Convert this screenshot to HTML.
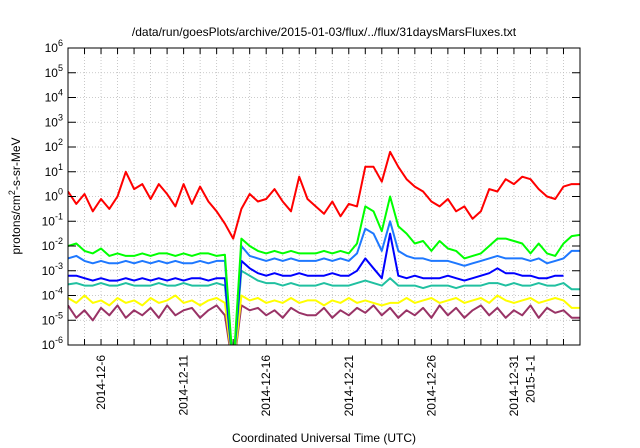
<!DOCTYPE html>
<html><head><meta charset="utf-8">
<style>
body{margin:0;background:#fff;}
svg{display:block;font-family:"Liberation Sans",sans-serif;}
</style></head>
<body>
<svg id="chart" width="640" height="448" viewBox="0 0 640 448" xmlns="http://www.w3.org/2000/svg">
<rect width="640" height="448" fill="#fff"/>
<text x="324" y="36" font-size="12" text-anchor="middle" fill="#000">/data/run/goesPlots/archive/2015-01-03/flux/../flux/31daysMarsFluxes.txt</text>
<text x="324" y="442" font-size="12" text-anchor="middle" fill="#000">Coordinated Universal Time (UTC)</text>
<text transform="translate(20,196) rotate(-90)" font-size="12" text-anchor="middle" fill="#000">protons/cm<tspan dy="-5" font-size="9">2</tspan><tspan dy="5">-s-sr-MeV</tspan></text>
<defs><clipPath id="pc"><rect x="68" y="48" width="512" height="297"/></clipPath></defs>
<g id="grid"></g>
<g id="series" clip-path="url(#pc)"></g>
<g id="axes"></g>
</svg>
<script>
// day offsets from 2014-12-04 (0.5 day steps)
const days = Array.from({length:63},(_,i)=>i*0.5);
const yTickExps = [6,5,4,3,2,1,0,-1,-2,-3,-4,-5,-6];
const xTickDays = [2,7,12,17,22,27,28];
const xTickLabels = ["2014-12-6","2014-12-11","2014-12-16","2014-12-21","2014-12-26","2014-12-31","2015-1-1"];
// log10 flux values
const redVals = [0.2,-0.3,0.1,-0.6,-0.1,-0.5,0.0,1.0,0.3,0.5,-0.1,0.5,0.1,-0.4,0.5,-0.3,0.4,-0.2,-0.6,-1.1,-1.7,-0.5,0.1,-0.2,-0.1,0.3,-0.2,-0.6,0.8,-0.1,-0.4,-0.7,-0.2,-0.8,-0.3,-0.4,1.2,1.2,0.6,1.8,1.2,0.7,0.4,0.2,-0.2,-0.4,-0.1,-0.6,-0.4,-0.9,-0.6,0.3,0.2,0.7,0.5,0.8,0.7,0.3,0.0,-0.1,0.4,0.5,0.5];
const greenVals = [-2.0,-1.9,-2.2,-2.3,-2.1,-2.4,-2.3,-2.4,-2.4,-2.3,-2.4,-2.3,-2.3,-2.4,-2.3,-2.4,-2.3,-2.3,-2.4,-2.35,-7,-1.7,-2.0,-2.2,-2.3,-2.2,-2.3,-2.2,-2.3,-2.3,-2.3,-2.2,-2.3,-2.2,-2.3,-1.9,-0.4,-0.6,-1.4,0.0,-1.2,-1.5,-1.9,-1.8,-2.2,-1.8,-2.1,-2.2,-2.5,-2.4,-2.3,-2.0,-1.7,-1.7,-1.8,-1.9,-2.3,-1.9,-2.3,-2.4,-1.9,-1.6,-1.55];
const skyVals = [-2.5,-2.4,-2.6,-2.7,-2.6,-2.7,-2.7,-2.6,-2.7,-2.6,-2.7,-2.6,-2.7,-2.6,-2.7,-2.7,-2.6,-2.7,-2.6,-2.6,-7,-2.0,-2.4,-2.5,-2.6,-2.5,-2.6,-2.5,-2.6,-2.6,-2.6,-2.5,-2.6,-2.5,-2.6,-2.3,-1.3,-1.5,-2.2,-1.0,-2.2,-2.4,-2.5,-2.5,-2.6,-2.6,-2.6,-2.7,-2.8,-2.7,-2.6,-2.5,-2.4,-2.5,-2.5,-2.5,-2.6,-2.5,-2.7,-2.6,-2.5,-2.2,-2.2];
const blueVals = [-3.2,-3.2,-3.3,-3.4,-3.3,-3.4,-3.4,-3.3,-3.4,-3.3,-3.4,-3.3,-3.4,-3.3,-3.4,-3.3,-3.3,-3.4,-3.3,-3.3,-7,-2.6,-2.9,-3.1,-3.2,-3.1,-3.2,-3.2,-3.1,-3.2,-3.2,-3.2,-3.1,-3.2,-3.2,-3.0,-2.5,-2.9,-3.3,-1.5,-3.2,-3.3,-3.2,-3.3,-3.3,-3.3,-3.2,-3.3,-3.4,-3.3,-3.2,-3.1,-2.9,-3.1,-3.1,-3.2,-3.2,-3.3,-3.3,-3.2,-3.2,null,null];
const tealVals = [-3.55,-3.5,-3.6,-3.6,-3.5,-3.6,-3.6,-3.5,-3.6,-3.6,-3.6,-3.5,-3.6,-3.6,-3.5,-3.6,-3.6,-3.6,-3.5,-3.6,-7,-3.0,-3.2,-3.4,-3.5,-3.5,-3.6,-3.5,-3.6,-3.6,-3.6,-3.5,-3.6,-3.6,-3.6,-3.5,-3.4,-3.5,-3.6,-3.3,-3.6,-3.6,-3.6,-3.7,-3.6,-3.6,-3.6,-3.7,-3.6,-3.6,-3.6,-3.5,-3.5,-3.6,-3.5,-3.6,-3.6,-3.5,-3.6,-3.6,-3.5,-3.75,-3.75];
const yellowVals = [-4.1,-4.3,-4.0,-4.3,-4.2,-4.4,-4.1,-4.3,-4.2,-4.4,-4.1,-4.3,-4.2,-4.0,-4.3,-4.2,-4.4,-4.2,-4.1,-4.3,-7,-4.0,-4.2,-4.1,-4.3,-4.2,-4.3,-4.1,-4.3,-4.2,-4.2,-4.4,-4.2,-4.3,-4.1,-4.3,-4.2,-4.3,-4.4,-4.3,-4.3,-4.1,-4.3,-4.2,-4.1,-4.3,-4.2,-4.1,-4.3,-4.2,-4.1,-4.3,-4.0,-4.2,-4.3,-4.2,-4.1,-4.3,-4.2,-4.1,-4.2,-4.5,-4.5];
const brownVals = [-4.4,-4.9,-4.6,-5.0,-4.5,-4.8,-4.4,-4.9,-4.6,-4.8,-4.5,-4.9,-4.4,-4.8,-4.6,-4.5,-4.9,-4.6,-4.4,-4.8,-7,-4.4,-4.6,-4.5,-4.8,-4.6,-4.9,-4.5,-4.7,-4.8,-4.8,-4.5,-4.9,-4.6,-4.8,-4.5,-4.7,-4.4,-4.8,-4.5,-4.9,-4.6,-4.8,-4.5,-4.9,-4.4,-4.8,-4.5,-4.9,-4.6,-4.4,-4.8,-4.5,-4.9,-4.6,-4.8,-4.4,-4.9,-4.5,-4.7,-4.6,-4.9,-4.9];

const L=68,R=580,T=48,B=345,DAYS=31;
const xs=d=>L+d*(R-L)/DAYS;
const ys=e=>T+(6-e)*(B-T)/12;
const NS="http://www.w3.org/2000/svg";
function mk(tag,parent,attrs){const e=document.createElementNS(NS,tag);for(const k in attrs)e.setAttribute(k,attrs[k]);parent.appendChild(e);return e;}
const grid=document.getElementById('grid'),axes=document.getElementById('axes'),ser=document.getElementById('series');
for(let d=1;d<DAYS;d++){
  const l=mk('line',grid,{x1:xs(d),x2:xs(d),y1:T,y2:B,stroke:'#bbb','stroke-dasharray':'1,2','stroke-width':0.8});
  
  
  const t1=mk('line',axes,{x1:xs(d),x2:xs(d),y1:B,y2:B-6,stroke:'#000'});
  
  
  const t2=mk('line',axes,{x1:xs(d),x2:xs(d),y1:T,y2:T+6,stroke:'#000'});
  
  
}
yTickExps.forEach(e=>{
  const y=ys(e);
  if(e<6&&e>-6){
    const g=mk('line',grid,{x1:L,x2:R,y1:y,y2:y,stroke:'#bbb','stroke-dasharray':'1,2','stroke-width':0.8});
    
    
  }
  const t=mk('line',axes,{x1:L,x2:L+8,y1:y,y2:y,stroke:'#000'});
  
  
  const t2=mk('line',axes,{x1:R,x2:R-8,y1:y,y2:y,stroke:'#000'});
  
  
  const tx=mk('text',axes,{x:L-5,y:y+4,'font-size':12,'text-anchor':'end',fill:'#000'});
  
  
  tx.innerHTML='10<tspan dy="-6" font-size="9">'+e+'</tspan>';
});
xTickDays.forEach((d,i)=>{
  const x=xs(d);
  const tx=mk('text',axes,{transform:`translate(${x+4},${B+10}) rotate(-90)`,'font-size':12,'text-anchor':'end',fill:'#000'});
  
  
  tx.textContent=xTickLabels[i];
});
const frame=mk('rect',axes,{x:L,y:T,width:R-L,height:B-T,fill:'none',stroke:'#000','stroke-width':1});


const seriesList=[
  ['series-brown',brownVals,'#993366'],
  ['series-yellow',yellowVals,'#ffff00'],
  ['series-teal',tealVals,'#20c0a0'],
  ['series-blue',blueVals,'#0000ff'],
  ['series-sky',skyVals,'#1e78ff'],
  ['series-green',greenVals,'#00ff00'],
  ['series-red',redVals,'#ff0000']
];
seriesList.forEach(([name,vals,col])=>{
  let dstr='';
  vals.forEach((v,i)=>{ if(v===null) return; dstr+=(dstr?'L':'M')+xs(days[i]).toFixed(1)+','+ys(v).toFixed(1); });
  const p=mk('path',ser,{d:dstr,fill:'none',stroke:col,'stroke-width':2,'stroke-linejoin':'round'});
  
  
});
</script>
</body></html>
